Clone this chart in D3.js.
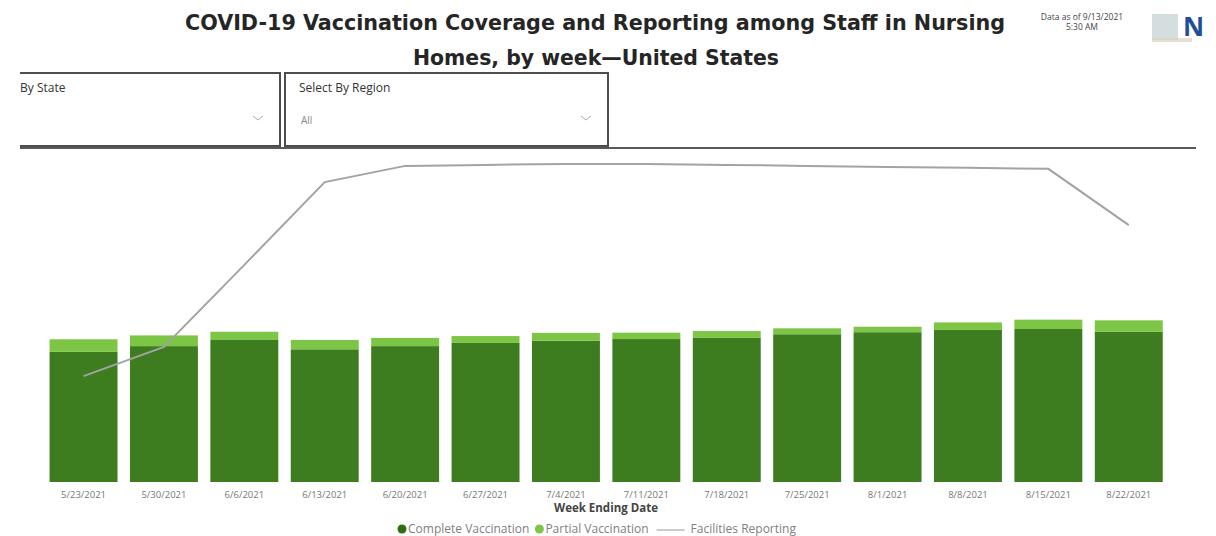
<!DOCTYPE html>
<html>
<head>
<meta charset="utf-8">
<script src="https://cdn.jsdelivr.net/npm/d3@7"></script>
<style>
  html, body { margin: 0; padding: 0; background: #fff; }
  svg { display: block; }
</style>
</head>
<body>
<svg id="chart" width="1216" height="536"></svg>
<script>
// ---- data ----
const weeks = ["5/23/2021","5/30/2021","6/6/2021","6/13/2021","6/20/2021","6/27/2021","7/4/2021",
               "7/11/2021","7/18/2021","7/25/2021","8/1/2021","8/8/2021","8/15/2021","8/22/2021"];
const completeVacc = [57.1, 59.6, 62.3, 58.2, 59.6, 61.0, 62.0, 62.7, 63.2, 64.8, 65.7, 66.7, 67.1, 65.9];
const partialVacc  = [5.5, 4.7, 3.6, 4.1, 3.6, 3.0, 3.4, 2.8, 3.0, 2.6, 2.4, 3.3, 4.1, 5.0];
const facilitiesReporting = [31.7, 40.5, 65.3, 90.3, 95.2, 95.5, 95.8, 95.8, 95.5, 95.2, 94.9, 94.6, 94.3, 77.3];
const legendLabels = ["Complete Vaccination", "Partial Vaccination", "Facilities Reporting"];

const svg = d3.select("#chart");
const colDark = "#3d7d1f", colLight = "#7cc545", colLine = "#a3a3a3";

// ---- scales ----
const x = d3.scaleBand().domain(weeks).range([37.1, 1175.2]).padding(0.155);
const y = d3.scaleLinear().domain([0, 100]).range([482, 254]);
const y2 = d3.scaleLinear().domain([0, 100]).range([481, 150]);

// ---- title ----
const title = svg.append("g").attr("font-family", "'DejaVu Sans Condensed', 'Open Sans', sans-serif")
  .attr("font-weight", "bold").attr("fill", "#252525");
title.append("text").attr("x", 185).attr("y", 30).attr("font-size", 21)
  .attr("textLength", 820).attr("lengthAdjust", "spacingAndGlyphs")
  .text("COVID-19 Vaccination Coverage and Reporting among Staff in Nursing");
title.append("text").attr("x", 413).attr("y", 65).attr("font-size", 21)
  .attr("textLength", 366).attr("lengthAdjust", "spacingAndGlyphs")
  .text("Homes, by week\u2014United States");

// data-as-of
const asof = svg.append("g").attr("font-family", "'Open Sans', sans-serif").attr("font-size", 8.5).attr("fill", "#444");
asof.append("text").attr("x", 1082).attr("y", 20).attr("text-anchor", "middle").text("Data as of 9/13/2021");
asof.append("text").attr("x", 1082).attr("y", 30).attr("text-anchor", "middle").text("5:30 AM");

// logo fragment
svg.append("rect").attr("x", 1152).attr("y", 14).attr("width", 26).attr("height", 26).attr("fill", "#c9d6d6").attr("opacity", 0.8);
svg.append("rect").attr("x", 1152).attr("y", 38).attr("width", 40).attr("height", 4).attr("fill", "#d9d0c0").attr("opacity", 0.7);
svg.append("text").attr("x", 1183).attr("y", 36).attr("font-family", "'Open Sans', sans-serif").attr("font-weight", "bold")
  .attr("font-size", 26).attr("fill", "#1f4f96").text("N");

// ---- slicers ----
svg.append("clipPath").attr("id", "leftclip").append("rect").attr("x", 20).attr("y", 60).attr("width", 1196).attr("height", 100);
const sl = svg.append("g").attr("font-family", "'Open Sans', sans-serif");
const slicers = [
  {x0: -10, x1: 280, label: "By State", value: "", lx: 20},
  {x0: 285, x1: 608, label: "Select By Region", value: "All", lx: 299}
];
slicers.forEach(s => {
  sl.append("rect").attr("x", s.x0).attr("y", 73).attr("width", s.x1 - s.x0).attr("height", 73)
    .attr("clip-path", "url(#leftclip)")
    .attr("fill", "none").attr("stroke", "#4d4d4d").attr("stroke-width", 2);
  sl.append("text").attr("x", s.lx).attr("y", 92).attr("font-size", 12).attr("fill", "#333").text(s.label);
  sl.append("text").attr("x", s.x0 + 16).attr("y", 124).attr("font-size", 10).attr("fill", "#888").text(s.value);
  sl.append("path").attr("d", `M${s.x1 - 27},${116} l5,4 l5,-4`).attr("fill", "none").attr("stroke", "#aaa").attr("stroke-width", 1);
});
svg.append("line").attr("x1", 20).attr("x2", 1196).attr("y1", 148).attr("y2", 148).attr("stroke", "#5a5a5a").attr("stroke-width", 2);

// ---- bars ----
const bars = svg.append("g");
bars.selectAll("rect.complete").data(weeks).join("rect").attr("class", "complete")
  .attr("x", d => x(d)).attr("width", x.bandwidth())
  .attr("y", (d, i) => y(completeVacc[i])).attr("height", (d, i) => y(0) - y(completeVacc[i]))
  .attr("fill", colDark);
bars.selectAll("rect.partial").data(weeks).join("rect").attr("class", "partial")
  .attr("x", d => x(d)).attr("width", x.bandwidth())
  .attr("y", (d, i) => y(completeVacc[i] + partialVacc[i])).attr("height", (d, i) => y(completeVacc[i]) - y(completeVacc[i] + partialVacc[i]))
  .attr("fill", colLight);

// ---- line ----
const line = d3.line().x((d, i) => x(weeks[i]) + x.bandwidth() / 2).y(d => y2(d));
svg.append("path").datum(facilitiesReporting).attr("d", line)
  .attr("fill", "none").attr("stroke", colLine).attr("stroke-width", 2);

// ---- x axis ----
const xAxis = svg.append("g").attr("transform", "translate(0,482)")
  .call(d3.axisBottom(x).tickSize(0).tickPadding(9));
xAxis.select(".domain").remove();
xAxis.selectAll("text").attr("font-family", "'Open Sans', sans-serif").attr("font-size", 9.5).attr("fill", "#777");

svg.append("text").attr("x", 606).attr("y", 512).attr("text-anchor", "middle")
  .attr("font-family", "'Open Sans', sans-serif").attr("font-weight", "bold").attr("font-size", 11.5).attr("fill", "#444")
  .text("Week Ending Date");

// ---- legend ----
const lg = svg.append("g").attr("font-family", "'Open Sans', sans-serif").attr("font-size", 12).attr("fill", "#808080");
let lx = 398;
const ly = 530;
lg.append("circle").attr("cx", lx + 4).attr("cy", ly - 1).attr("r", 4.5).attr("fill", "#2d6e14");
let t = lg.append("text").attr("x", lx + 10).attr("y", ly + 3).text(legendLabels[0]);
lx = lx + 10 + t.node().getComputedTextLength() + 6;
lg.append("circle").attr("cx", lx + 4).attr("cy", ly - 1).attr("r", 4.5).attr("fill", colLight);
t = lg.append("text").attr("x", lx + 10).attr("y", ly + 3).text(legendLabels[1]);
lx = lx + 10 + t.node().getComputedTextLength() + 8;
lg.append("line").attr("x1", lx).attr("x2", lx + 28).attr("y1", ly).attr("y2", ly).attr("stroke", "#999").attr("stroke-width", 1);
lg.append("text").attr("x", lx + 34).attr("y", ly + 3).text(legendLabels[2]);
</script>
</body>
</html>
